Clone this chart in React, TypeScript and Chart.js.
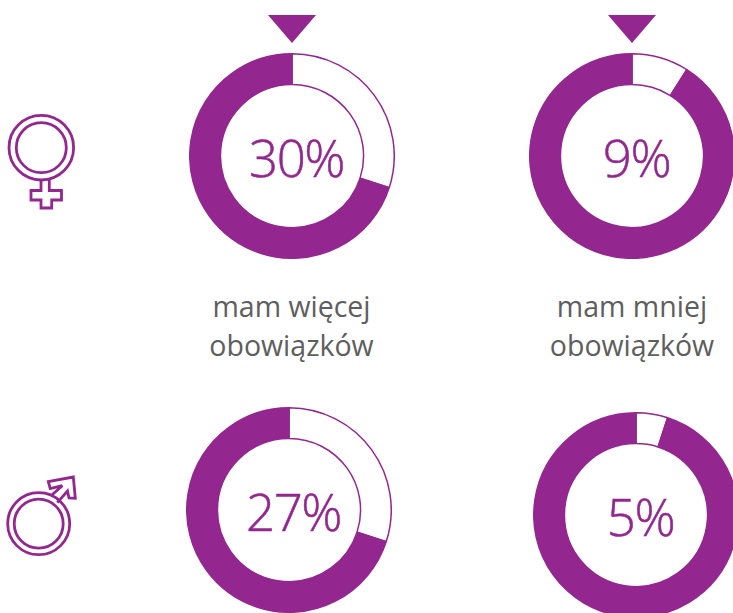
import React, { useEffect, useRef } from "react";
import { Chart, registerables } from "chart.js";

Chart.register(...registerables);

const PURPLE = "#93278F";
const GREY = "#5E5E5E";
const FONT = '"Open Sans", "Noto Sans", sans-serif';

const centerLabels = ["30%", "9%", "27%", "5%"];
const highlightedShare = [30, 9, 30, 5];
const remainingShare = [70, 91, 70, 95];
const ringCentersX = [292, 632, 289, 636];
const ringCentersY = [155.5, 155.5, 510, 515];
const captions = [
  { lines: ["mam więcej", "obowiązków"], x: 291.5 },
  { lines: ["mam mniej", "obowiązków"], x: 632 },
];
const RING_SIZE = 206;

function Ring({ index }: { index: number }) {
  const ref = useRef<HTMLCanvasElement>(null);
  useEffect(() => {
    const chart = new Chart(ref.current!, {
      type: "doughnut",
      data: {
        labels: ["udział", "pozostali"],
        datasets: [
          {
            data: [highlightedShare[index], remainingShare[index]],
            backgroundColor: ["#FFFFFF", PURPLE],
            borderColor: [PURPLE, PURPLE],
            borderWidth: 1.5,
          },
        ],
      },
      options: {
        responsive: false,
        animation: false,
        cutout: "70%",
        layout: { padding: 0 },
        plugins: { legend: { display: false }, tooltip: { enabled: false } },
      },
    });
    return () => chart.destroy();
  }, [index]);
  const cx = ringCentersX[index];
  const cy = ringCentersY[index];
  return (
    <>
      <canvas
        ref={ref}
        width={RING_SIZE}
        height={RING_SIZE}
        style={{ position: "absolute", left: cx - RING_SIZE / 2, top: cy - RING_SIZE / 2, width: RING_SIZE, height: RING_SIZE }}
      />
      <div
        style={{
          position: "absolute",
          left: cx - 65.5,
          width: 140,
          top: cy - 39,
          height: 80,
          lineHeight: "80px",
          textAlign: "center",
          fontFamily: FONT,
          fontWeight: 300,
          fontSize: 51,
          letterSpacing: "-1.5px",
          WebkitTextStroke: "0.5px " + PURPLE,
          color: PURPLE,
        }}
      >
        {centerLabels[index]}
      </div>
    </>
  );
}

function Decorations() {
  return (
    <svg width={733} height={613} style={{ position: "absolute", left: 0, top: 0 }}>
      <polygon points="268,15 316,15 292,43" fill={PURPLE} />
      <polygon points="608,15 656,15 632,43" fill={PURPLE} />
      <g fill="none" stroke={PURPLE} strokeWidth={2.8} strokeLinejoin="miter">
        <circle cx={41.3} cy={147.7} r={32.3} />
        <circle cx={41.3} cy={147.7} r={25} />
        <polyline points="41,179.5 41,190.5 31,190.5 31,200 41,200 41,208 51.7,208 51.7,200 61.5,200 61.5,190.5 49.3,190.5 49.3,179" />
        <circle cx={38.7} cy={523.7} r={31} />
        <circle cx={38.7} cy={523.7} r={24.5} />
        <polyline points="50.7,496 62.3,485.7 50.2,488.5 48.3,481.7 73.3,477 75.3,498.3 69,498 67.5,491 57.3,502.7" />
      </g>
    </svg>
  );
}

export default function App() {
  return (
    <div style={{ position: "fixed", left: 0, top: 0, width: 733, height: 613, overflow: "hidden", background: "#fff" }}>
      <Decorations />
      {centerLabels.map((_, i) => (
        <Ring key={i} index={i} />
      ))}
      {captions.map((c, i) => (
        <div
          key={i}
          style={{
            position: "absolute",
            left: c.x - 110,
            width: 220,
            top: 286.5,
            textAlign: "center",
            fontFamily: FONT,
            fontSize: 28.5,
            lineHeight: "39px",
            color: GREY,
          }}
        >
          {c.lines.map((l) => (
            <div key={l}>{l}</div>
          ))}
        </div>
      ))}
    </div>
  );
}
